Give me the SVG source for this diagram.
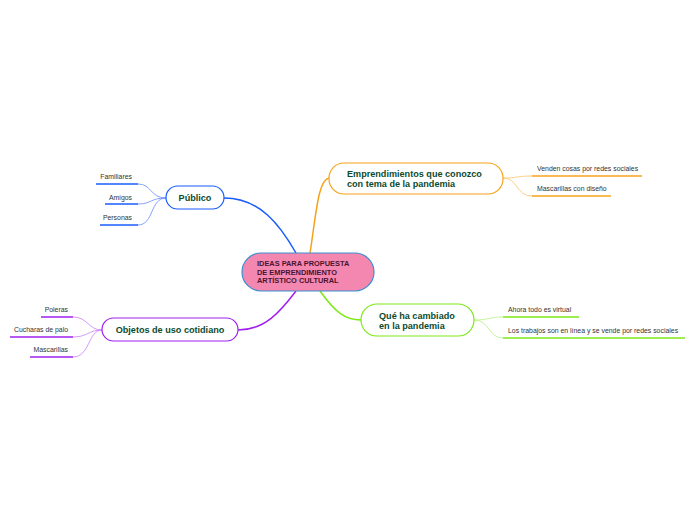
<svg xmlns="http://www.w3.org/2000/svg" width="696" height="520" viewBox="0 0 696 520">
<style>
.main{font-family:"Liberation Sans",Arial,sans-serif;font-weight:bold;font-size:9.1px;fill:#0c4a2e}
.leaf{font-family:"Liberation Sans",Arial,sans-serif;font-size:6.9px;fill:#333}
.ctr{font-family:"Liberation Sans",Arial,sans-serif;font-weight:bold;font-size:7.4px;fill:#4a1430}
.c{fill:none}
</style>
<rect width="696" height="520" fill="#fff"/>
<g id="connectors">
  <path class="c" d="M296,253 C280,225 260,198 224,198" stroke="#1a5cff" stroke-width="1.5"/>
  <path class="c" d="M310,253 C316,215 318,180 329,178" stroke="#f7a21b" stroke-width="1.5"/>
  <path class="c" d="M320,291 C335,312 345,320 361,320" stroke="#7fe817" stroke-width="1.5"/>
  <path class="c" d="M296,291 C280,312 265,330 238,330" stroke="#a020f0" stroke-width="1.5"/>
  <path class="c" d="M166,198 C150,198 152,184 138,184" stroke="#6a8cff" stroke-width="0.8"/>
  <path class="c" d="M166,198 C150,198 152,204 138,204" stroke="#6a8cff" stroke-width="0.8"/>
  <path class="c" d="M166,198 C150,198 154,225 138,225" stroke="#6a8cff" stroke-width="0.8"/>
  <path class="c" d="M503,178 C518,178 516,176 532,176" stroke="#fbc46a" stroke-width="0.8"/>
  <path class="c" d="M503,178 C518,178 516,196 532,196" stroke="#fbc46a" stroke-width="0.8"/>
  <path class="c" d="M102,330 C88,330 88,317 73,317" stroke="#c880f8" stroke-width="0.8"/>
  <path class="c" d="M102,330 C88,330 88,337 73,337" stroke="#c880f8" stroke-width="0.8"/>
  <path class="c" d="M102,330 C88,330 90,357 73,357" stroke="#c880f8" stroke-width="0.8"/>
  <path class="c" d="M474,320 C490,320 488,317 503,317" stroke="#b8f080" stroke-width="0.8"/>
  <path class="c" d="M474,320 C490,320 488,338 503,338" stroke="#b8f080" stroke-width="0.8"/>
</g>
<g id="center">
  <rect x="242" y="253" width="132" height="38" rx="19" fill="#f487b0" stroke="#3a8fd0" stroke-width="1.2"/>
  <text class="ctr" x="257" y="266">IDEAS PARA PROPUESTA</text>
  <text class="ctr" x="257" y="274.5">DE EMPRENDIMIENTO</text>
  <text class="ctr" x="257" y="283">ARTÍSTICO CULTURAL</text>
</g>
<g id="emprendimientos">
  <rect x="329" y="163" width="174" height="31" rx="15" fill="#fff" stroke="#f7a21b" stroke-width="1.2"/>
  <text class="main" x="347" y="177">Emprendimientos que conozco</text>
  <text class="main" x="347" y="187">con tema de la pandemia</text>
</g>
<g id="venden">
  <text class="leaf" x="537" y="171">Venden cosas por redes sociales</text>
  <line x1="532" y1="176" x2="642" y2="176" stroke="#f7a21b" stroke-width="1.5"/>
</g>
<g id="mascarillas-diseno">
  <text class="leaf" x="537" y="191">Mascarillas con diseño</text>
  <line x1="532" y1="196" x2="611" y2="196" stroke="#f7a21b" stroke-width="1.5"/>
</g>
<g id="publico">
  <rect x="166" y="186" width="58" height="23" rx="11.5" fill="#fff" stroke="#1a5cff" stroke-width="1.2"/>
  <text class="main" x="195" y="201" text-anchor="middle">Público</text>
</g>
<g id="familiares">
  <text class="leaf" x="132" y="179" text-anchor="end">Familiares</text>
  <line x1="96" y1="184" x2="138" y2="184" stroke="#1a5cff" stroke-width="1.5"/>
</g>
<g id="amigos">
  <text class="leaf" x="132" y="199.5" text-anchor="end">Amigos</text>
  <line x1="105" y1="204" x2="138" y2="204" stroke="#1a5cff" stroke-width="1.5"/>
</g>
<g id="personas">
  <text class="leaf" x="132" y="220" text-anchor="end">Personas</text>
  <line x1="100" y1="225" x2="138" y2="225" stroke="#1a5cff" stroke-width="1.5"/>
</g>
<g id="objetos">
  <rect x="102" y="318" width="136" height="23" rx="11.5" fill="#fff" stroke="#a020f0" stroke-width="1.2"/>
  <text class="main" x="170" y="333" text-anchor="middle">Objetos de uso cotidiano</text>
</g>
<g id="poleras">
  <text class="leaf" x="68" y="312" text-anchor="end">Poleras</text>
  <line x1="41" y1="317" x2="73" y2="317" stroke="#a020f0" stroke-width="1.5"/>
</g>
<g id="cucharas">
  <text class="leaf" x="68" y="332" text-anchor="end">Cucharas de palo</text>
  <line x1="10" y1="337" x2="73" y2="337" stroke="#a020f0" stroke-width="1.5"/>
</g>
<g id="mascarillas">
  <text class="leaf" x="68" y="352" text-anchor="end">Mascarillas</text>
  <line x1="30" y1="357" x2="73" y2="357" stroke="#a020f0" stroke-width="1.5"/>
</g>
<g id="cambiado">
  <rect x="361" y="304" width="113" height="32" rx="16" fill="#fff" stroke="#7fe817" stroke-width="1.2"/>
  <text class="main" x="379" y="319">Qué ha cambiado</text>
  <text class="main" x="379" y="329">en la pandemia</text>
</g>
<g id="virtual">
  <text class="leaf" x="508" y="312">Ahora todo es virtual</text>
  <line x1="503" y1="317" x2="579" y2="317" stroke="#7fe817" stroke-width="1.5"/>
</g>
<g id="trabajos">
  <text class="leaf" x="508" y="333">Los trabajos son en línea y se vende por redes sociales</text>
  <line x1="503" y1="338" x2="685" y2="338" stroke="#7fe817" stroke-width="1.5"/>
</g>
</svg>
